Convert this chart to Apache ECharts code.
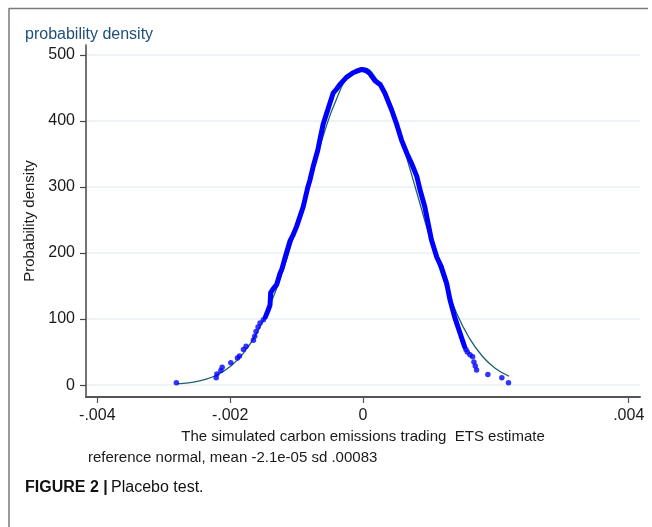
<!DOCTYPE html>
<html>
<head>
<meta charset="utf-8">
<script src="https://cdn.jsdelivr.net/npm/echarts@6/dist/echarts.min.js"></script>
<style>
html,body{margin:0;padding:0;background:#fff;}
#chart{width:652px;height:527px;}
</style>
</head>
<body>
<div id="chart"></div>
<script>
// x tick values shown on the axis (.002 is not labelled in the original)
var xTicks = [-0.004, -0.002, 0, 0.004];
var xTickLabels = ['-.004', '-.002', '0', '.004'];
var yTicks = [0, 100, 200, 300, 400, 500];

// simulated estimates, kernel density (blue dots) - left tail, dense core, right tail
var kdLeftTail = [
  [-0.00281, 3.5], [-0.00221, 11], [-0.00220, 17], [-0.00214, 22], [-0.00212, 27],
  [-0.00199, 34], [-0.00189, 41], [-0.00186, 44], [-0.00180, 54], [-0.00176, 59],
  [-0.00165, 68], [-0.00163, 74], [-0.00161, 81], [-0.00158, 88], [-0.00155, 94],
  [-0.00150, 99]
];
var kdCore = [
  [-0.00147, 103], [-0.00143, 113], [-0.00140, 121], [-0.00139, 140], [-0.00135, 146],
  [-0.00130, 152], [-0.00125, 169], [-0.00122, 176], [-0.00117, 194], [-0.00110, 218],
  [-0.00105, 228], [-0.00100, 240], [-0.00090, 270], [-0.00083, 300], [-0.00080, 310],
  [-0.00075, 331], [-0.00068, 356], [-0.00064, 376], [-0.00060, 395], [-0.00053, 417],
  [-0.00045, 442], [-0.00040, 448], [-0.00035, 455], [-0.00025, 466], [-0.00015, 473],
  [-0.00002, 478], [0.00005, 476], [0.00010, 472], [0.00018, 461], [0.00026, 455],
  [0.00033, 442], [0.00043, 417], [0.00051, 394], [0.00058, 371], [0.00066, 351],
  [0.00073, 336], [0.00081, 316], [0.00086, 295], [0.00093, 270], [0.00098, 245],
  [0.00103, 220], [0.00108, 204], [0.00111, 194], [0.00118, 179], [0.00126, 154],
  [0.00131, 129], [0.00138, 103], [0.00146, 79], [0.00151, 64], [0.00153, 58]
];
var kdRightTail = [
  [0.00155, 54], [0.00157, 50], [0.00161, 46], [0.00165, 43], [0.00167, 35],
  [0.00169, 29], [0.00171, 23], [0.00188, 16], [0.00209, 11], [0.00219, 3.5]
];

// reference normal curve
var normalX = [-0.0028, -0.0026, -0.0024, -0.0022, -0.0020, -0.0018, -0.0016, -0.0014,
  -0.0012, -0.0010, -0.0008, -0.0006, -0.0004, -0.0002, 0, 0.0002, 0.0004, 0.0006,
  0.0008, 0.0010, 0.0012, 0.0014, 0.0016, 0.0018, 0.0020, 0.0022];
var normalY = [1.8, 3.9, 7.9, 15.3, 28, 48.3, 78.7, 121, 175, 240, 309, 377, 433, 469.5,
  480.4, 464, 423, 363, 295, 225.5, 163, 111, 71.4, 43.3, 24.8, 13.4];

var normalData = normalX.map(function (x, i) { return [x, normalY[i]]; });

var chart = echarts.init(document.getElementById('chart'), null, {renderer: 'canvas'});
var FONT = 'Liberation Sans, Arial, sans-serif';

chart.setOption({
  backgroundColor: '#ffffff',
  animation: false,
  title: {
    text: 'probability density',
    left: 20, top: 22,
    textStyle: {fontFamily: FONT, fontSize: 16, fontWeight: 'normal', color: '#1f4e79'}
  },
  grid: {left: 86, right: 12, top: 45, bottom: 130, containLabel: false},
  xAxis: {
    type: 'value',
    min: -0.00417, max: 0.00417,
    name: 'The simulated carbon emissions trading  ETS estimate',
    nameLocation: 'middle', nameGap: 30,
    nameTextStyle: {fontFamily: FONT, fontSize: 15, color: '#1a1a1a'},
    axisLine: {show: true, onZero: false, lineStyle: {color: '#555', width: 2}},
    axisTick: {show: true, length: 6, customValues: xTicks, lineStyle: {color: '#555', width: 1.2}},
    axisLabel: {
      customValues: xTicks, margin: 11,
      fontFamily: FONT, fontSize: 16, color: '#1a1a1a',
      formatter: function (v) {
        for (var i = 0; i < xTicks.length; i++) { if (Math.abs(v - xTicks[i]) < 1e-9) return xTickLabels[i]; }
        return '';
      }
    },
    splitLine: {show: false}
  },
  yAxis: {
    type: 'value',
    min: -18, max: 515,
    name: 'Probability density',
    nameLocation: 'middle', nameGap: 40, nameRotate: 90,
    nameTextStyle: {fontFamily: FONT, fontSize: 15, color: '#1a1a1a'},
    axisLine: {show: true, onZero: false, lineStyle: {color: '#444', width: 1.5}},
    axisTick: {show: true, length: 6, customValues: yTicks, lineStyle: {color: '#444', width: 1.2}},
    axisLabel: {customValues: yTicks, margin: 11, fontFamily: FONT, fontSize: 16, color: '#1a1a1a'},
    splitLine: {show: true, customValues: yTicks, lineStyle: {color: '#e8f0f3', width: 1.5}}
  },
  graphic: [
    {type: 'line', shape: {x1: 9, y1: 8.5, x2: 648, y2: 8.5}, style: {stroke: '#7a7a7a', lineWidth: 1.5}, silent: true},
    {type: 'line', shape: {x1: 9, y1: 8, x2: 9, y2: 527}, style: {stroke: '#7a7a7a', lineWidth: 1.5}, silent: true},
    {type: 'text', left: 88, top: 450,
      style: {text: 'reference normal, mean -2.1e-05 sd .00083', font: '15px ' + FONT, fill: '#1a1a1a'}},
    {type: 'text', left: 25, top: 480,
      style: {
        text: '{b|FIGURE 2 |} {r|Placebo test.}',
        rich: {
          b: {fontFamily: FONT, fontSize: 16, fontWeight: 'bold', fill: '#111'},
          r: {fontFamily: FONT, fontSize: 16, fontWeight: 'normal', fill: '#111'}
        }
      }}
  ],
  series: [
    {
      name: 'normal', type: 'line', data: normalData, smooth: true, showSymbol: false,
      lineStyle: {color: '#1d6070', width: 1.3}, z: 2
    },
    {
      name: 'kdcore', type: 'line', data: kdCore, smooth: false, showSymbol: false,
      lineStyle: {color: '#0000ff', width: 5, cap: 'round', join: 'round'}, z: 3
    },
    {
      name: 'tails', type: 'scatter', data: kdLeftTail.concat(kdRightTail),
      symbol: 'circle', symbolSize: 5.5, itemStyle: {color: '#0000ff'}, z: 3
    }
  ]
});
</script>
</body>
</html>
